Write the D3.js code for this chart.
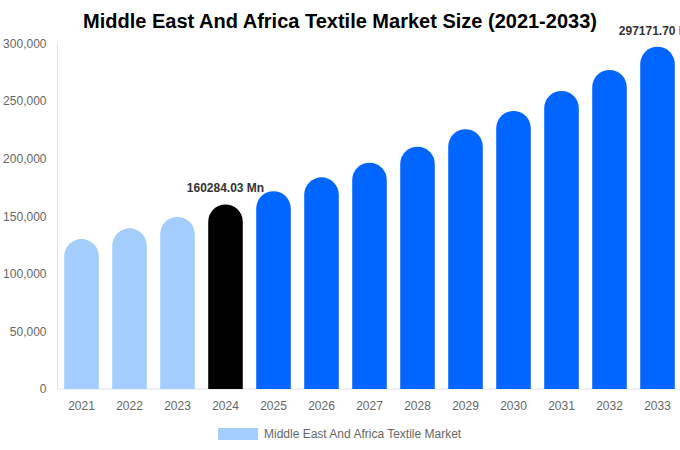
<!DOCTYPE html>
<html>
<head>
<meta charset="utf-8">
<script src="https://cdn.jsdelivr.net/npm/d3@7"></script>
<style>
  body { margin: 0; background: #fff; }
  svg { font-family: "Liberation Sans", Arial, sans-serif; }
</style>
</head>
<body>
<svg id="viz-svg" width="680" height="450"></svg>
<script>
// values (2024 and 2033 are labelled)
var years = ["2021","2022","2023","2024","2025","2026","2027","2028","2029","2030","2031","2032","2033"]
  , marketSize = [130200, 139500, 149300, 160284.03, 171700, 183800, 196500, 210400, 225500, 241400, 258800, 277000, 297171.70]
  , yTicks = [0, 50000, 100000, 150000, 200000, 250000, 300000]
  , labelled = {"2024": "160284.03 Mn", "2033": "297171.70 Mn"}
  , seriesName = "Middle East And Africa Textile Market"
  , colorPast = "#a2cdfd"
  , colorNow = "#000000"
  , colorFuture = "#0066ff";

var svg = d3.select("#viz-svg")
  , margin = {left: 57.5, right: -1.5, top: 43.5, bottom: 61}
  , width = 680
  , height = 450;

var x = d3.scaleBand()
  .domain(years)
  .range([margin.left, width - margin.right])
  .paddingInner(0.28)
  .paddingOuter(0.14);

var y = d3.scaleLinear()
  .domain([0, 300000])
  .range([height - margin.bottom, margin.top]);

// title
svg.append("text")
  .attr("x", 340)
  .attr("y", 28)
  .attr("text-anchor", "middle")
  .attr("font-size", 20)
  .attr("font-weight", "bold")
  .attr("fill", "#000")
  .text("Middle East And Africa Textile Market Size (2021-2033)");

// axis lines
svg.append("line")
  .attr("x1", margin.left).attr("x2", margin.left)
  .attr("y1", y(300000)).attr("y2", y(0))
  .attr("stroke", "#e3e3e3");
svg.append("line")
  .attr("x1", margin.left).attr("x2", width)
  .attr("y1", y(0)).attr("y2", y(0))
  .attr("stroke", "#e3e3e3");

// y axis
var yAxis = svg.append("g")
  .attr("transform", "translate(" + margin.left + ",0)")
  .call(d3.axisLeft(y).tickValues(yTicks).tickSize(0).tickPadding(11).tickFormat(d3.format(",")));
yAxis.select(".domain").remove();
yAxis.selectAll("text")
  .attr("font-family", "Liberation Sans, Arial, sans-serif")
  .attr("font-size", 12)
  .attr("fill", "#666");

// x axis
var xAxis = svg.append("g")
  .attr("transform", "translate(0," + y(0) + ")")
  .call(d3.axisBottom(x).tickSize(0).tickPadding(12));
xAxis.select(".domain").remove();
xAxis.selectAll("text")
  .attr("font-family", "Liberation Sans, Arial, sans-serif")
  .attr("font-size", 12)
  .attr("fill", "#666");

function barColor(yr){
  if (+yr < 2024) return colorPast;
  if (+yr === 2024) return colorNow;
  return colorFuture;
}

// bars with rounded tops
function barPath(d, i){
  var x0 = x(years[i])
    , w = x.bandwidth()
    , r = w / 2
    , top = y(d)
    , base = y(0);
  return "M" + x0 + "," + base
    + "L" + x0 + "," + (top + r)
    + "A" + r + "," + r + " 0 0 1 " + (x0 + w) + "," + (top + r)
    + "L" + (x0 + w) + "," + base + "Z";
}

svg.append("g")
  .selectAll("path")
  .data(marketSize)
  .join("path")
  .attr("d", barPath)
  .attr("fill", function(d, i){ return barColor(years[i]); });

// value labels
svg.append("g")
  .selectAll("text")
  .data(years.filter(function(yr){ return labelled[yr]; }))
  .join("text")
  .attr("x", function(yr){ return x(yr) + x.bandwidth() / 2; })
  .attr("y", function(yr){ return y(marketSize[years.indexOf(yr)]) - 12; })
  .attr("text-anchor", "middle")
  .attr("font-size", 12)
  .attr("font-weight", "bold")
  .attr("fill", "#333")
  .text(function(yr){ return labelled[yr]; });

// legend
var legend = svg.append("g").attr("id", "legend-container");
legend.append("rect")
  .attr("x", 218).attr("y", 428)
  .attr("width", 40).attr("height", 12)
  .attr("fill", colorPast);
legend.append("text")
  .attr("x", 264).attr("y", 438)
  .attr("font-size", 12)
  .attr("fill", "#666")
  .text(seriesName);
</script>
</body>
</html>
